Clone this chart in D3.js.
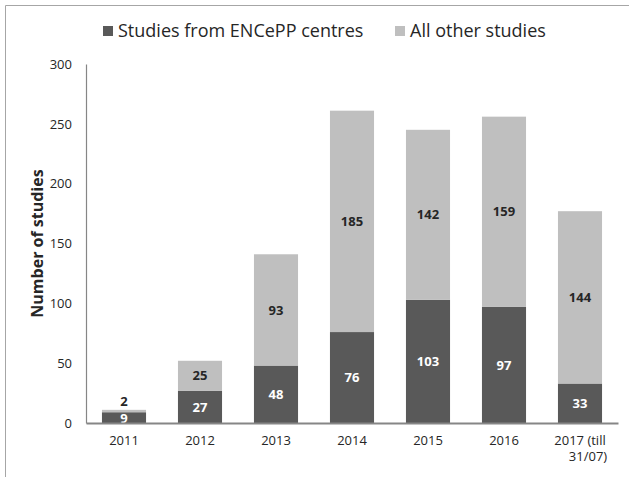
<!DOCTYPE html>
<html>
<head>
<meta charset="utf-8">
<script src="https://cdn.jsdelivr.net/npm/d3@7"></script>
<style>
  body { margin: 0; background: #fff; }
  svg { display: block; font-family: "Open Sans", sans-serif; }
</style>
</head>
<body>
<div id="chart"></div>
<script>
// chart values
const years = ['2011', '2012', '2013', '2014', '2015', '2016', '2017 (till|31/07)'];
const enceppStudies = [9, 27, 48, 76, 103, 97, 33];
const otherStudies = [2, 25, 93, 185, 142, 159, 144];
const seriesNames = ['Studies from ENCePP centres', 'All other studies'];
const yTicks = [0, 50, 100, 150, 200, 250, 300];

const width = 629, height = 477;
const margin = { top: 64, right: 11, bottom: 54, left: 86 };
const colors = ['#595959', '#bfbfbf'];

const svg = d3.select('#chart').append('svg')
    .attr('width', width)
    .attr('height', height);

// outer frame (only top and left edges are visible)
svg.append('path')
    .attr('d', `M5.5,${height} V5.5 H${width}`)
    .attr('fill', 'none')
    .attr('stroke', '#a6a6a6')
    .attr('stroke-width', 1);

const x = d3.scaleBand()
    .domain(years)
    .range([margin.left, width - margin.right])
    .paddingInner(0.42)
    .paddingOuter(0.21);

const y = d3.scaleLinear()
    .domain([0, 300])
    .range([height - margin.bottom, margin.top]);

const rows = years.map((yr, i) => ({ year: yr, encepp: enceppStudies[i], other: otherStudies[i] }));
const stacked = d3.stack().keys(['encepp', 'other'])(rows);

// bars
const layers = svg.append('g').selectAll('g')
    .data(stacked)
    .join('g')
    .attr('fill', (d, i) => colors[i]);

layers.selectAll('rect')
    .data(d => d)
    .join('rect')
    .attr('x', d => x(d.data.year))
    .attr('width', x.bandwidth())
    .attr('y', d => y(d[1]))
    .attr('height', d => y(d[0]) - y(d[1]));

// value labels
stacked.forEach((layer, li) => {
    svg.append('g').selectAll('text')
        .data(layer)
        .join('text')
        .attr('x', d => x(d.data.year) + x.bandwidth() / 2)
        .attr('y', d => {
            const h = y(d[0]) - y(d[1]);
            // tiny top segment: label sits just above the bar
            if (li === 1 && h < 12) return y(d[1]) - 9;
            // tiny bottom segment: push label down a little
            if (li === 0 && h < 14) return (y(d[0]) + y(d[1])) / 2 + 1;
            return (y(d[0]) + y(d[1])) / 2;
        })
        .attr('dy', '0.36em')
        .attr('text-anchor', 'middle')
        .attr('font-size', 13)
        .attr('font-weight', 'bold')
        .attr('fill', li === 0 ? '#ffffff' : '#262626')
        .text(d => d[1] - d[0]);
});

// y axis
const yAxis = svg.append('g')
    .attr('transform', `translate(${margin.left},0)`)
    .call(d3.axisLeft(y).tickValues(yTicks).tickSize(0).tickPadding(14));
yAxis.select('.domain').attr('stroke', '#868686').attr('stroke-width', 1.2);
yAxis.selectAll('text')
    .attr('font-family', '"Open Sans", sans-serif')
    .attr('font-size', 13)
    .attr('fill', '#262626');

// x axis
const xAxis = svg.append('g')
    .attr('transform', `translate(0,${y(0)})`)
    .call(d3.axisBottom(x).tickSize(0).tickPadding(13).tickSizeOuter(0));
xAxis.select('.domain').attr('stroke', '#868686').attr('stroke-width', 2);
xAxis.selectAll('text')
    .attr('font-family', '"Open Sans", sans-serif')
    .attr('font-size', 13)
    .attr('fill', '#262626')
    .each(function (d) {
        const parts = d.split('|');
        const t = d3.select(this).text(null);
        parts.forEach((p, i) => {
            t.append('tspan')
                .attr('x', i === 0 ? 0 : 8)
                .attr('dy', i === 0 ? '0.71em' : '1.25em')
                .text(p);
        });
    });

// y axis title
svg.append('text')
    .attr('transform', `translate(37,${(margin.top + y(0)) / 2}) rotate(-90)`)
    .attr('text-anchor', 'middle')
    .attr('dy', '0.35em')
    .attr('font-size', 16)
    .attr('font-weight', 'bold')
    .attr('fill', '#262626')
    .text('Number of studies');

// legend
const legendItems = [
    { name: seriesNames[0], color: colors[0], x: 103 },
    { name: seriesNames[1], color: colors[1], x: 395 },
];
const legend = svg.append('g').selectAll('g')
    .data(legendItems)
    .join('g')
    .attr('transform', d => `translate(${d.x},31)`);
legend.append('rect')
    .attr('x', 0).attr('y', -5)
    .attr('width', 10).attr('height', 10)
    .attr('fill', d => d.color);
legend.append('text')
    .attr('x', 15)
    .attr('dy', '0.35em')
    .attr('font-size', 18)
    .attr('fill', '#262626')
    .text(d => d.name);
</script>
</body>
</html>
